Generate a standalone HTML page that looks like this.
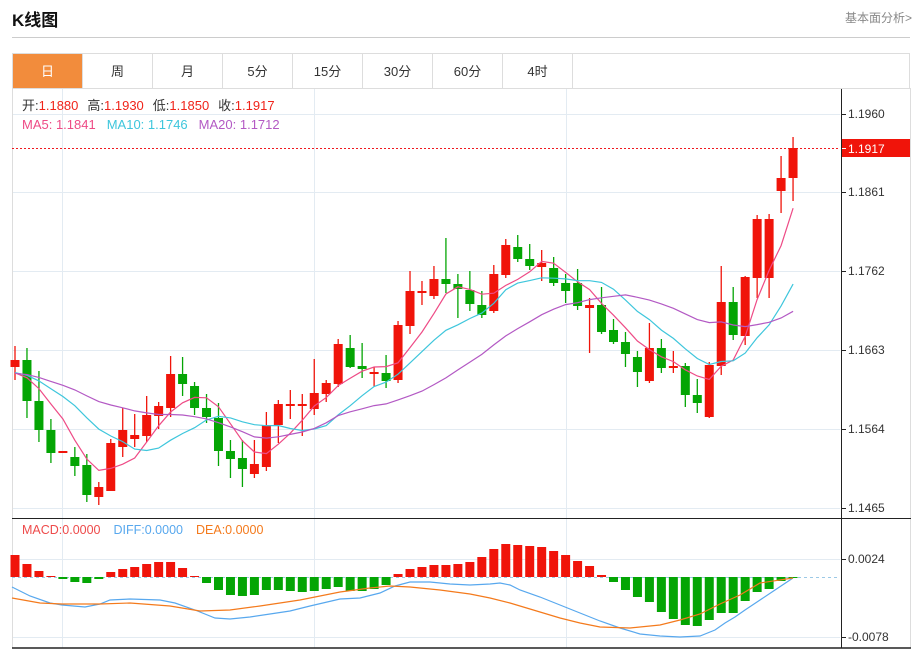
<!DOCTYPE html>
<html><head><meta charset="utf-8">
<style>
body{margin:0;width:920px;height:649px;background:#fff;font-family:"Liberation Sans","Noto Sans CJK SC",sans-serif;overflow:hidden;position:relative}
.t{position:absolute;left:12px;top:6px;font-size:17px;font-weight:bold;color:#111}
.r{position:absolute;right:8px;top:9px;font-size:12px;color:#888}
.hr{position:absolute;left:12px;top:37px;width:898px;height:1px;background:#ccc}
.tabs{position:absolute;left:12px;top:53px;width:898px;height:35px;border:1px solid #ddd;border-bottom:none;box-sizing:border-box}
.tab{position:absolute;top:0;height:35px;width:70px;border-right:1px solid #ddd;text-align:center;line-height:35px;font-size:13px;color:#333;box-sizing:border-box}
.tab.a{background:#f28c3c;color:#fff}
svg{position:absolute;left:0;top:0}
</style></head><body>
<div class="t">K线图</div><div class="r">基本面分析&gt;</div><div class="hr"></div>
<div class="tabs">
<div class="tab a" style="left:0">日</div><div class="tab" style="left:70px">周</div><div class="tab" style="left:140px">月</div><div class="tab" style="left:210px">5分</div><div class="tab" style="left:280px">15分</div><div class="tab" style="left:350px">30分</div><div class="tab" style="left:420px">60分</div><div class="tab" style="left:490px">4时</div>
</div>
<svg id="s" width="920" height="649" xmlns="http://www.w3.org/2000/svg" font-family="Liberation Sans, Noto Sans CJK SC, sans-serif"></svg>
<script>
var C=[[367,360,346,380],[360,401,348,418],[401,430,371,442],[430,453,419,463],[452,451,451,452],[457,466,447,476],[465,495,454,502],[497,487,482,505],[491,443,439,491],[447,430,408,457],[439,435,414,447],[436,415,396,442],[416,406,402,429],[408,374,356,417],[374,384,357,396],[386,408,382,415],[408,417,394,423],[418,451,403,466],[451,459,440,478],[458,469,440,487],[474,464,440,478],[467,425,412,471],[425,404,400,443],[405,404,390,419],[405,404,394,436],[409,393,359,415],[394,383,380,402],[384,344,339,387],[348,367,335,368],[366,369,343,378],[373,372,367,387],[373,381,355,388],[380,325,321,383],[326,291,271,334],[292,291,281,305],[296,279,266,299],[279,284,238,293],[284,289,274,318],[290,304,271,311],[305,315,291,318],[311,274,265,313],[275,245,239,278],[247,259,235,262],[259,266,244,270],[267,263,250,281],[268,283,257,286],[283,291,274,303],[283,306,269,310],[308,305,298,353],[305,332,287,334],[330,342,319,344],[342,354,332,367],[357,372,351,387],[381,348,323,383],[348,368,339,373],[368,366,351,373],[366,395,363,407],[395,403,379,413],[417,365,362,418],[366,302,266,375],[302,335,287,340],[336,277,276,345],[278,219,215,298],[278,219,214,298],[191,178,156,213],[178,148,137,201]];
var H=[555,564,571,576,579,582,583,579,572,569,567,564,562,562,568,576,583,590,595,596,595,590,590,591,592,591,589,587,591,591,589,585,574,569,567,565,565,564,562,557,549,544,545,546,547,551,555,561,566,575,582,590,597,602,612,619,625,626,620,613,613,601,592,589,581,578];
var DIFF=[[12,587],[30,596],[50,603],[62,605],[85,607],[100,604],[110,600],[130,599],[160,600],[175,603],[195,610],[215,618],[230,619],[250,617],[270,614],[290,611],[310,606],[340,599],[360,598],[380,593],[395,586],[410,582],[430,582],[450,584],[470,585],[490,584],[500,583],[510,585],[520,590],[540,597],[560,605],[580,613],[600,621],[620,628],[640,634],[660,636],[680,637],[700,636],[715,630],[725,623],[735,617],[745,610],[760,600],[775,590],[793,578]];
var DEA=[[12,598],[40,603],[62,604],[100,604],[130,603],[170,606],[200,611],[230,610],[260,606],[300,600],[340,592],[370,588],[390,586],[410,587],[440,590],[470,594],[490,598],[510,603],[540,612],[560,618],[580,623],[600,627],[630,628],[660,625],[680,620],[700,614],[720,604],[740,595],[760,583],[793,578]];
var s='';
function L(x1,y1,x2,y2,c,w,d){s+='<line x1="'+x1+'" y1="'+y1+'" x2="'+x2+'" y2="'+y2+'" stroke="'+c+'" stroke-width="'+(w||1)+'"'+(d?' stroke-dasharray="'+d+'"':'')+'/>';}
function T(x,y,t,c,sz){s+='<text x="'+x+'" y="'+y+'" fill="'+c+'" font-size="'+(sz||12)+'">'+t+'</text>';}
var g='#e3ebf2';
[114,192,271,350,429,508].forEach(function(y){L(12,y+.5,840,y+.5,g);});
[559,637].forEach(function(y){L(12,y+.5,840,y+.5,g);});
[62.5,314.5,566.5].forEach(function(x){L(x,89,x,648,g);});
L(12.5,89,12.5,648,'#ddd');L(910.5,89,910.5,648,'#ddd');L(12,88.5,911,88.5,'#ddd');
L(841.5,89,841.5,648,'#222');
L(12,518.5,911,518.5,'#222');L(12,648,911,648,'#222',1.5);
var lab=[[114,'1.1960'],[192,'1.1861'],[271,'1.1762'],[350,'1.1663'],[429,'1.1564'],[508,'1.1465']];
lab.forEach(function(a){L(842,a[0]+.5,846,a[0]+.5,'#222');T(848,a[0]+4,a[1],'#333');});
[[559,'0.0024'],[637,'-0.0078']].forEach(function(a){L(842,a[0]+.5,846,a[0]+.5,'#222');T(848,a[0]+4,a[1],'#333');});
L(12,148.5,840,148.5,'#f0191f',1,'2,2');
s+='<rect x="842" y="139" width="68" height="18" fill="#f0140a"/>';L(842,148.5,846,148.5,'#fff');T(848,153,'1.1917','#fff');
L(12,577.5,838,577.5,'#9cc9e6',1,'3,3');
function X(i){return 15+11.97*i;}
C.forEach(function(c,i){var x=X(i),up=c[1]<=c[0],col=up?'#f0140a':'#04a504';
L(x,c[2],x,c[3],col,1.3);var t=Math.min(c[0],c[1]),h=Math.max(Math.abs(c[0]-c[1]),2);
s+='<rect x="'+(x-4.5)+'" y="'+t+'" width="9" height="'+h+'" fill="'+col+'"/>';
var hy=H[i],r=hy<577;s+='<rect x="'+(x-4.5)+'" y="'+Math.min(hy,577)+'" width="9" height="'+Math.max(Math.abs(577-hy),1)+'" fill="'+(r?'#f0140a':'#04a504')+'"/>';});
function MA(n,pad){var p=[];for(var i=0;i<C.length;i++){var a=0,k=0;for(var j=Math.max(0,i-n+1);j<=i;j++){a+=C[j][1];k++;}
var v=(a+pad*(n-k))/n;p.push([X(i),v]);}return p;}
function PL(p,c){s+='<polyline fill="none" stroke="'+c+'" stroke-width="1.2" points="'+p.map(function(q){return q[0].toFixed(1)+','+q[1].toFixed(1)}).join(' ')+'"/>';}
PL(MA(5,376),'#ee4b86');PL(MA(10,374),'#3ec6dc');PL(MA(20,374),'#b359c4');
PL(DIFF,'#58a8ee');PL(DEA,'#f47a1c');
s+='<text x="22" y="110" font-size="13"><tspan fill="#333">开:</tspan><tspan fill="#f0241a">1.1880</tspan><tspan fill="#333" dx="9">高:</tspan><tspan fill="#f0241a">1.1930</tspan><tspan fill="#333" dx="9">低:</tspan><tspan fill="#f0241a">1.1850</tspan><tspan fill="#333" dx="9">收:</tspan><tspan fill="#f0241a">1.1917</tspan></text>';
s+='<text x="22" y="129" font-size="13"><tspan fill="#ee4b86">MA5: 1.1841</tspan><tspan fill="#3ec6dc" dx="11">MA10: 1.1746</tspan><tspan fill="#b359c4" dx="11">MA20: 1.1712</tspan></text>';
s+='<text x="22" y="534" font-size="12.5"><tspan fill="#ee4b4b">MACD:0.0000</tspan><tspan fill="#58a8ee" dx="13">DIFF:0.0000</tspan><tspan fill="#f47a1c" dx="13">DEA:0.0000</tspan></text>';
document.getElementById('s').innerHTML=s;
</script>
</body></html>
